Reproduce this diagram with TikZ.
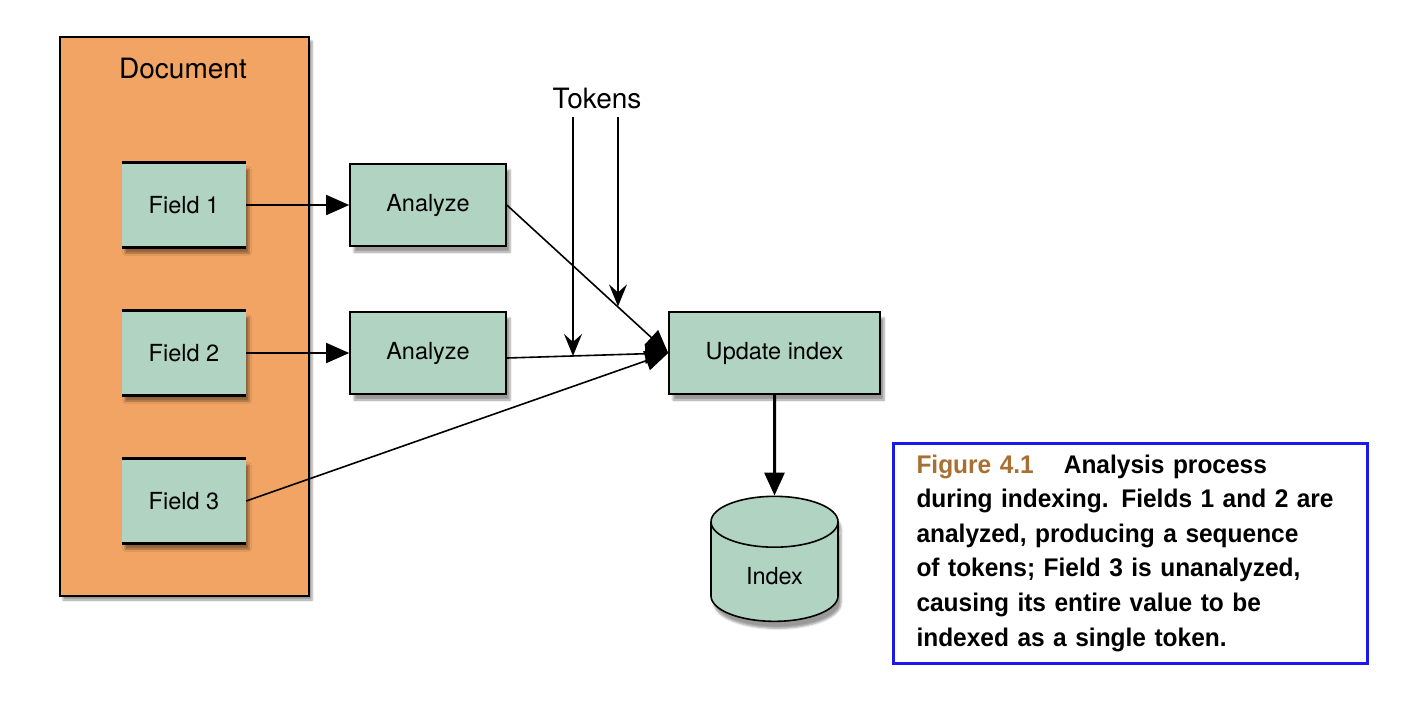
\documentclass[tikz,border=0pt]{standalone}
\usepackage{fontspec}
\setmainfont{TeX Gyre Heros}
\newfontfamily\capfont[FakeStretch=0.96]{Liberation Sans}
\usetikzlibrary{arrows.meta,shapes.geometric,shadows.blur,calc}

\definecolor{docorange}{RGB}{241,164,99}
\definecolor{boxgreen}{RGB}{176,211,194}
\definecolor{capblue}{RGB}{25,25,235}
\definecolor{capbrown}{RGB}{168,111,50}

\tikzset{
 fieldbox/.style={rectangle, fill=boxgreen, minimum width=124pt, minimum height=84pt,
   blur shadow={shadow xshift=3pt, shadow yshift=-6pt}, font=\fontsize{23.5}{27}\selectfont},
 stepbox/.style={rectangle, draw, line width=1.6pt, fill=boxgreen, minimum height=82pt,
   blur shadow={shadow xshift=4pt, shadow yshift=-6pt}, font=\fontsize{23.5}{27}\selectfont},
 flow/.style={-{Triangle[length=23pt,width=20pt]}, line width=1.6pt},
 tokarrow/.style={-{Stealth[length=22pt,width=18pt,inset=8pt]}, line width=1.6pt}
}

\begin{document}
\begin{tikzpicture}[x=1pt,y=-1pt]
 \useasboundingbox (0,0) rectangle (1404,705);

 \draw node[rectangle, draw, line width=1.2pt, fill=docorange, minimum width=249pt, minimum height=559pt,
   blur shadow={shadow xshift=3pt, shadow yshift=-4pt}] (doc) at (184.5,316.5) {};
 \draw node[font=\fontsize{28}{32}\selectfont] (doclbl) at (183,68) {Document};

 \draw node[fieldbox] (f1) at (184,205) {Field 1};
 \draw node[fieldbox] (f2) at (184,353) {Field 2};
 \draw node[fieldbox] (f3) at (184,501) {Field 3};
 \foreach \f in {f1,f2,f3} {
   \draw[line width=3pt] (\f.north west) -- (\f.north east);
   \draw[line width=3pt] (\f.south west) -- (\f.south east);
 }

 \draw node[stepbox, minimum width=156pt] (an1) at (428,205) {Analyze};
 \draw node[stepbox, minimum width=156pt] (an2) at (428,353) {Analyze};
 \draw node[stepbox, minimum width=211pt] (upd) at (774.5,353) {Update index};

 \draw node[cylinder, shape border rotate=90, aspect=0.8, draw, line width=1.6pt, fill=boxgreen,
   minimum width=127pt, minimum height=125pt, blur shadow={shadow xshift=3pt, shadow yshift=-7pt},
   font=\fontsize{23.5}{27}\selectfont] (idx) at (774.5,576) {Index};

 \draw[flow] (f1) -- (an1);
 \draw[flow] (f2) -- (an2);
 \draw[flow] (an1.east) -- (upd.west);
 \draw[flow] ([yshift=-5pt]an2.east) -- (upd.west);
 \draw[flow] (f3.east) -- (upd.west);
 \draw[flow, line width=3pt] (upd) -- (idx);

 % tokens coming down onto the two analyzed streams
 \draw node[font=\fontsize{28}{32}\selectfont] (tok) at (597,98) {Tokens};
 \coordinate (tokA) at (573,117);
 \coordinate (tokB) at (618,117);
 \coordinate (hitA) at ($([yshift=-5pt]an2.east)!0.407!(upd.west)$);
 \coordinate (hitB) at ($(an1.east)!0.685!(upd.west)$);
 \draw[tokarrow] (tokA) -- (tokA |- hitA);
 \draw[tokarrow] (tokB) -- (tokB |- hitB);

 \draw node[rectangle, draw=capblue, line width=3pt, fill=white, text width=428pt, align=left,
   inner xsep=23pt, minimum height=220pt, font=\capfont\bfseries\fontsize{25.5}{34.6}\selectfont] (cap) at (1130.5,553)
   {\textcolor{capbrown}{Figure 4.1}\hspace{30pt}Analysis process\\
    during indexing. Fields 1 and 2 are\\
    analyzed, producing a sequence\\
    of tokens; Field 3 is unanalyzed,\\
    causing its entire value to be\\
    indexed as a single token.};
\end{tikzpicture}
\end{document}
